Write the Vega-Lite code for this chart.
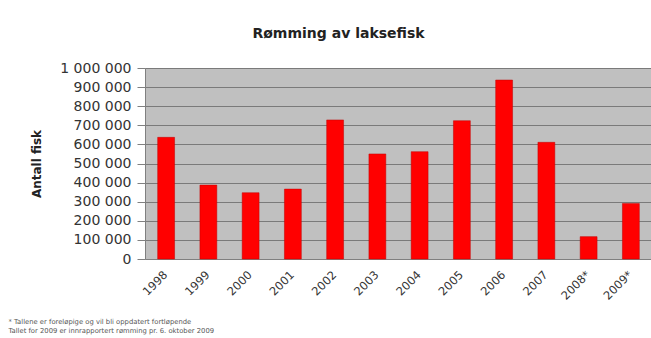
{
  "$schema": "https://vega.github.io/schema/vega-lite/v6.json",
  "autosize": {"type": "none"},
  "padding": {"left": 145, "top": 68, "right": 0, "bottom": 79},
  "width": 507,
  "height": 191,
  "background": "white",
  "title": {
    "text": "Rømming av laksefisk",
    "font": "DejaVu Sans",
    "fontSize": 14,
    "fontWeight": "bold",
    "color": "#222222",
    "anchor": "middle",
    "dx": -60,
    "offset": 20
  },
  "data": {
    "values": [
      {"år": "1998", "antall": 637000},
      {"år": "1999", "antall": 387000},
      {"år": "2000", "antall": 347000},
      {"år": "2001", "antall": 366000},
      {"år": "2002", "antall": 728000},
      {"år": "2003", "antall": 550000},
      {"år": "2004", "antall": 562000},
      {"år": "2005", "antall": 724000},
      {"år": "2006", "antall": 937000},
      {"år": "2007", "antall": 611000},
      {"år": "2008*", "antall": 117000},
      {"år": "2009*", "antall": 291000}
    ]
  },
  "mark": {"type": "bar", "color": "#FF0000", "stroke": "#C00000", "strokeWidth": 0.5},
  "encoding": {
    "x": {
      "field": "år",
      "type": "nominal",
      "sort": null,
      "scale": {"paddingInner": 0.6, "paddingOuter": 0.3},
      "axis": {
        "title": ["* Tallene er foreløpige og vil bli oppdatert fortløpende", "Tallet for 2009 er innrapportert rømming pr. 6. oktober 2009"],
        "titleFont": "DejaVu Sans",
        "titleFontSize": 6.8,
        "titleFontWeight": "normal",
        "titleColor": "#555555",
        "titleAlign": "left",
        "titleAnchor": null,
        "titleBaseline": "top",
        "titleX": -137,
        "titleY": 59,
        "titleLineHeight": 9,
        "labelAngle": -45,
        "labelAlign": "right",
        "labelBaseline": "middle",
        "labelFont": "DejaVu Sans",
        "labelFontSize": 11.5,
        "labelColor": "#333333",
        "labelPadding": 14,
        "ticks": false,
        "domainColor": "#808080",
        "domainWidth": 1
      }
    },
    "y": {
      "field": "antall",
      "type": "quantitative",
      "scale": {"domain": [0, 1000000], "nice": false},
      "axis": {
        "title": "Antall fisk",
        "titleFont": "DejaVu Sans",
        "titleFontSize": 12,
        "titleFontWeight": "bold",
        "titleColor": "#222222",
        "titlePadding": 16,
        "values": [0, 100000, 200000, 300000, 400000, 500000, 600000, 700000, 800000, 900000, 1000000],
        "format": ",d",
        "labelFont": "DejaVu Sans",
        "labelFontSize": 14,
        "labelColor": "#333333",
        "labelPadding": 6,
        "tickSize": 8,
        "tickColor": "#808080",
        "domainColor": "#808080",
        "gridColor": "#7a7a7a",
        "gridWidth": 1
      }
    }
  },
  "config": {
    "locale": {"number": {"decimal": ",", "thousands": " ", "grouping": [3], "currency": ["", " kr"]}},
    "view": {"fill": "#C0C0C0", "stroke": null}
  }
}
